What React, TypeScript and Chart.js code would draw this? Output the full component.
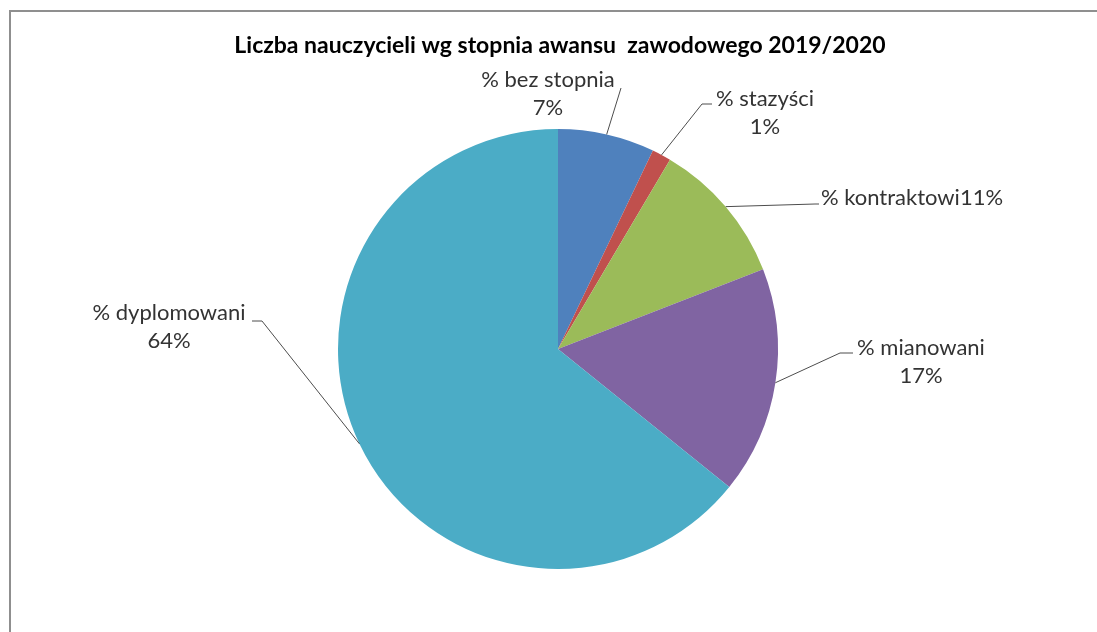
import React, { useEffect, useRef } from "react";
import { Chart, registerables } from "chart.js";

Chart.register(...registerables);

const TITLE = "Liczba nauczycieli wg stopnia awansu  zawodowego 2019/2020";
const categories = ["% bez stopnia", "% stazyści", "% kontraktowi", "% mianowani", "% dyplomowani"];
const values = [7.1, 1.4, 10.6, 16.7, 64.2];
const colors = ["#4F81BD", "#C0504D", "#9BBB59", "#8064A2", "#4BACC6"];

// label layout relative to pie centre: text centre x, baselines, leader elbow and end
const labelLayout = [
  { dx: -10, dys: [-262, -234], singleLine: false, elbow: [63, -261], end: [63, -261] },
  { dx: 207, dys: [-243, -215], singleLine: false, elbow: [144, -245], end: [154, -245] },
  { dx: 354, dys: [-144], singleLine: true, elbow: [257, -145], end: [261, -145] },
  { dx: 363, dys: [6, 34], singleLine: false, elbow: [282, 4], end: [295, 4] },
  { dx: -389, dys: [-29, -1], singleLine: false, elbow: [-296, -28], end: [-306, -28] },
];

const FONT = "Lato, 'Open Sans', sans-serif";

const labelPlugin = {
  id: "pieLabels",
  afterDatasetsDraw(chart: any) {
    const ctx = chart.ctx;
    const meta = chart.getDatasetMeta(0);
    const data = chart.data.datasets[0].data as number[];
    ctx.save();
    // title
    ctx.fillStyle = "#000";
    ctx.font = `bold 23px ${FONT}`;
    ctx.textAlign = "center";
    ctx.textBaseline = "alphabetic";
    const first = meta.data[0];
    ctx.fillText(TITLE, first.x + 2, 53);

    meta.data.forEach((arc: any, i: number) => {
      const { x, y, startAngle, endAngle, outerRadius } = arc.getProps(
        ["x", "y", "startAngle", "endAngle", "outerRadius"],
        true
      );
      const mid = (startAngle + endAngle) / 2;
      const px = x + Math.cos(mid) * outerRadius;
      const py = y + Math.sin(mid) * outerRadius;
      const lay = labelLayout[i];
      ctx.strokeStyle = "#4d4d4d";
      ctx.lineWidth = 1;
      ctx.beginPath();
      ctx.moveTo(px, py);
      ctx.lineTo(x + lay.elbow[0], y + lay.elbow[1]);
      ctx.lineTo(x + lay.end[0], y + lay.end[1]);
      ctx.stroke();

      const pct = Math.round(data[i]) + "%";
      const lines = lay.singleLine ? [chart.data.labels[i] + pct] : [chart.data.labels[i], pct];
      ctx.fillStyle = "#333333";
      ctx.font = `22px ${FONT}`;
      ctx.textAlign = "center";
      lines.forEach((t: string, k: number) => {
        ctx.fillText(t, x + lay.dx, y + lay.dys[k]);
      });
    });
    ctx.restore();
  },
};

export default function App() {
  const ref = useRef<HTMLCanvasElement>(null);
  useEffect(() => {
    if (!ref.current) return;
    const chart = new Chart(ref.current, {
      type: "pie",
      data: {
        labels: categories,
        datasets: [
          {
            data: values,
            backgroundColor: colors,
            borderWidth: 0,
          },
        ],
      },
      options: {
        responsive: false,
        animation: false,
        layout: { padding: { top: 129, bottom: 63, left: 20, right: 1 } },
        plugins: {
          legend: { display: false },
          tooltip: { enabled: false },
          title: { display: false },
        },
      },
      plugins: [labelPlugin],
    });
    return () => chart.destroy();
  }, []);

  return (
    <div style={{ position: "fixed", left: 0, top: 0, width: 1097, height: 632, overflow: "hidden", background: "#fff" }}>
      <div
        style={{
          position: "absolute",
          left: 9,
          top: 10,
          width: 1200,
          height: 700,
          borderLeft: "2px solid #8f8f8f",
          borderTop: "2px solid #8f8f8f",
        }}
      />
      <canvas ref={ref} width={1097} height={632} style={{ position: "absolute", left: 0, top: 0 }} />
    </div>
  );
}
